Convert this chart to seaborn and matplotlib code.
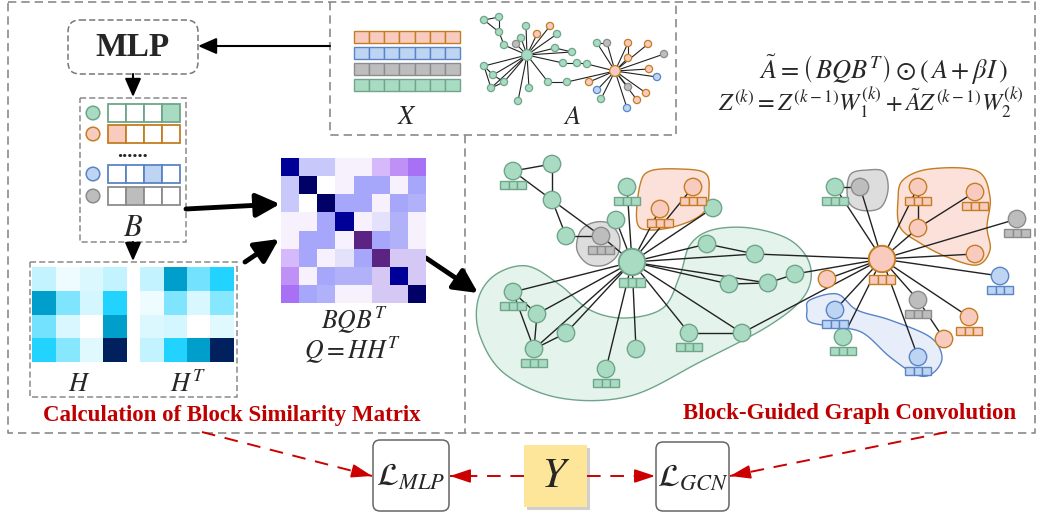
import numpy as np
import matplotlib
matplotlib.use('Agg')
import matplotlib.pyplot as plt
from matplotlib.colors import LinearSegmentedColormap, ListedColormap
from matplotlib.patches import Circle, Rectangle, FancyBboxPatch, Polygon
import seaborn as sns

sns.set_theme(style='white')
plt.rcParams['font.family'] = ['Liberation Serif', 'DejaVu Serif']
plt.rcParams['mathtext.fontset'] = 'stix'

# ---------------- data ----------------
# node groups: g = green, o = orange, b = blue, k = gray
fill_col = {'g': '#a9dbc3', 'o': '#f9cbbf', 'b': '#bdd4f3', 'k': '#bdbdbd'}
edge_col = {'g': '#6fa58a', 'o': '#c47d22', 'b': '#5a84c6', 'k': '#8c8c8c'}
blob_fill = {'g': '#e4f3eb', 'o': '#fbe1da', 'b': '#e7eefa', 'k': '#dddddd'}

# block membership matrix B (which cell is active per row)
b_groups = ['g', 'o', 'b', 'k']
b_active = [3, 0, 2, 1]

# feature matrix X rows
x_groups = ['o', 'b', 'k', 'g']
x_cols = 7

# H (4x4) and BQB^T (8x8, colour codes)
H_vals = np.array([[0.15, 0.04, 0.09, 0.15],
                   [0.75, 0.32, 0.11, 0.55],
                   [0.35, 0.10, 0.00, 0.75],
                   [0.55, 0.30, 0.08, 1.00]])
bqb_colors = ['#ffffff', '#f6f1fc', '#e4e1fa', '#d5c8f5', '#c8c8fa', '#b1b1fa',
              '#a6a6fa', '#d5b9fa', '#bf90f5', '#a870f5', '#5c2482', '#000099', '#000066']
bqb_codes = np.array([[11, 4, 4, 1, 1, 7, 8, 9],
                      [4, 12, 0, 1, 6, 6, 1, 6],
                      [4, 0, 12, 6, 6, 1, 6, 5],
                      [1, 1, 6, 11, 1, 2, 5, 1],
                      [1, 6, 6, 1, 10, 6, 5, 1],
                      [7, 6, 1, 2, 6, 10, 3, 3],
                      [8, 1, 6, 5, 5, 3, 11, 3],
                      [9, 6, 5, 1, 1, 3, 3, 12]])

# small graph A
a_x = [527, 615, 484, 499, 499, 504, 516, 526, 521, 537, 550, 557, 555, 572, 563, 577,
       587, 484, 493, 504, 491, 529, 518, 548, 567, 589, 597, 607, 628, 648, 628, 664,
       649, 657, 597, 601, 628, 646, 637, 627]
a_y = [55, 71, 20, 17, 32, 45, 44, 26, 38, 34, 26, 34, 48, 52, 63, 63,
       64, 66, 75, 82, 88, 88, 101, 82, 82, 82, 43, 43, 43, 44, 58, 54,
       69, 77, 90, 99, 87, 93, 100, 108]
a_grp = ['g', 'o', 'g', 'g', 'g', 'g', 'k', 'g', 'g', 'o', 'o', 'g', 'g', 'g', 'g', 'g',
         'g', 'g', 'g', 'g', 'g', 'g', 'g', 'g', 'g', 'o', 'g', 'k', 'o', 'o', 'o', 'k',
         'o', 'b', 'b', 'g', 'k', 'o', 'o', 'b']
a_edges = [(2, 3), (2, 4), (3, 4), (4, 5), (5, 0), (6, 0), (7, 0), (8, 0), (9, 0), (10, 0),
           (11, 0), (12, 0), (12, 13), (13, 0), (0, 14), (14, 15), (15, 16), (16, 1),
           (0, 17), (17, 18), (18, 19), (19, 20), (17, 20), (0, 18), (0, 19), (0, 20),
           (0, 21), (0, 22), (0, 23), (23, 24), (24, 1), (25, 1), (26, 27), (26, 1),
           (27, 1), (28, 1), (29, 1), (30, 1), (28, 30), (31, 1), (32, 1), (33, 1),
           (34, 1), (35, 1), (36, 1), (37, 1), (38, 1), (39, 1)]

# big graph
g_x = [632, 513, 552, 552, 566, 601, 616, 627, 660, 693, 713, 707, 755, 729, 768, 795,
       513, 537, 566, 534, 636, 606, 689, 742, 882, 835, 860, 918, 975, 918, 975, 1017,
       1000, 827, 918, 969, 944, 835, 843, 918]
g_y = [262, 171, 164, 200, 236, 236, 220, 187, 209, 187, 208, 244, 254, 284, 283, 274,
       292, 314, 333, 349, 349, 369, 333, 333, 259, 187, 187, 187, 192, 228, 254, 219,
       276, 279, 300, 317, 339, 310, 337, 357]
g_grp = ['g', 'g', 'g', 'g', 'g', 'k', 'g', 'g', 'o', 'o', 'g', 'g', 'g', 'g', 'g', 'g',
         'g', 'g', 'g', 'g', 'g', 'g', 'g', 'g', 'o', 'g', 'k', 'o', 'o', 'o', 'o', 'k',
         'b', 'o', 'k', 'o', 'o', 'b', 'g', 'b']
g_box = [1, 1, 0, 0, 0, 1, 0, 1, 1, 1, 0, 0, 0, 0, 0, 0,
         1, 0, 0, 1, 0, 1, 1, 0, 1, 1, 0, 1, 1, 0, 0, 1,
         1, 0, 1, 1, 0, 1, 1, 1]
g_edges = [(1, 2), (1, 3), (2, 3), (3, 4), (3, 5), (4, 5), (5, 0), (6, 0), (7, 0), (8, 0),
           (9, 0), (10, 0), (11, 0), (11, 12), (0, 12), (12, 24), (0, 13), (0, 14),
           (13, 14), (14, 15), (15, 24), (0, 16), (0, 17), (0, 18), (0, 19), (0, 20),
           (0, 21), (0, 22), (0, 23), (22, 23), (23, 24), (16, 17), (16, 19), (17, 19),
           (18, 19), (24, 25), (25, 26), (24, 26), (24, 27), (27, 29), (28, 29), (24, 29),
           (24, 30), (24, 31), (24, 32), (24, 33), (24, 34), (34, 36), (24, 35), (24, 37),
           (24, 38), (24, 39)]

blobs = {
    'g': [(478, 300), (495, 275), (527, 266), (560, 285), (590, 310), (625, 318),
          (663, 308), (680, 275), (690, 245), (712, 230), (750, 228), (790, 240),
          (810, 265), (805, 295), (770, 325), (700, 362), (630, 396), (560, 398),
          (505, 374), (480, 336)],
    'o1': [(640, 185), (650, 171), (680, 169), (705, 173), (709, 190), (704, 212),
           (680, 225), (650, 230), (637, 222)],
    'o2': [(903, 180), (930, 169), (977, 171), (990, 197), (987, 227), (990, 250),
           (977, 265), (947, 257), (920, 243), (900, 227), (898, 200)],
    'b': [(810, 300), (837, 294), (857, 310), (890, 320), (930, 337), (942, 357),
          (933, 373), (917, 375), (890, 357), (863, 333), (837, 327), (810, 322), (807, 310)],
    'k1': [(580, 232), (592, 223), (608, 223), (619, 236), (618, 254), (605, 265),
           (588, 264), (577, 250)],
    'k2': [(850, 175), (868, 170), (884, 172), (888, 190), (880, 208), (860, 210), (848, 200)],
}


def smooth_closed(pts, n=24):
    P = np.array(pts, float)
    m = len(P)
    out = []
    t = np.linspace(0, 1, n, endpoint=False)[:, None]
    for i in range(m):
        p0, p1, p2, p3 = P[i - 1], P[i], P[(i + 1) % m], P[(i + 2) % m]
        out.append(0.5 * (2 * p1 + (-p0 + p2) * t + (2 * p0 - 5 * p1 + 4 * p2 - p3) * t ** 2
                          + (-p0 + 3 * p1 - 3 * p2 + p3) * t ** 3))
    return np.vstack(out)


fig = plt.figure(figsize=(10.4, 5.14), dpi=100)
ax = fig.add_axes([0, 0, 1, 1])
ax.set_xlim(0, 1040)
ax.set_ylim(514, 0)
ax.axis('off')


def px_axes(x0, y0, x1, y1):
    return fig.add_axes([x0 / 1040, 1 - y1 / 514, (x1 - x0) / 1040, (y1 - y0) / 514])


# dashed frames
dash = dict(color='#8a8a8a', lw=1.2, ls=(0, (5, 3)))
ax.plot([8, 1035, 1035, 8, 8], [2, 2, 433, 433, 2], **dash)
ax.plot([330, 330, 676, 676], [2, 135, 135, 2], **dash)
ax.plot([465, 465], [135, 433], **dash)

# MLP box
ax.add_patch(FancyBboxPatch((68, 20), 130, 54, boxstyle='round,pad=0,rounding_size=12',
                            fc='white', ec='#777777', lw=1.1, ls=(0, (4, 2))))
ax.text(133, 47, 'MLP', ha='center', va='center', fontsize=24, fontweight='bold')
thin = dict(arrowstyle='-|>,head_width=0.35,head_length=0.8', lw=1.5,
            color='black', shrinkA=0, shrinkB=0, mutation_scale=14)
ax.annotate('', xy=(198, 46), xytext=(330, 46), arrowprops=thin)
ax.annotate('', xy=(133, 97), xytext=(133, 74), arrowprops=thin)
ax.annotate('', xy=(133, 261), xytext=(133, 242), arrowprops=thin)

# B matrix
ax.add_patch(Rectangle((80, 98), 106, 144, fc='none', ec='#8a8a8a', lw=1.1, ls=(0, (4, 2))))
row_y = [104, 125, 165, 187]
for gi, (grp, act) in enumerate(zip(b_groups, b_active)):
    y0 = row_y[gi]
    ax.add_patch(Circle((93, y0 + 9), 6.8, fc=fill_col[grp], ec=edge_col[grp], lw=1.1))
    for c in range(4):
        ax.add_patch(Rectangle((108 + 18 * c, y0), 18, 18,
                               fc=fill_col[grp] if c == act else 'white',
                               ec=edge_col[grp], lw=1.3))
ax.text(133, 157, '......', ha='center', va='baseline', fontsize=15, fontweight='bold')
ax.text(133, 229, r'$B$', ha='center', va='center', fontsize=22)

# X matrix
cw = (460 - 354) / x_cols
for ri, grp in enumerate(x_groups):
    y0 = 31 + 16 * ri
    for c in range(x_cols):
        ax.add_patch(Rectangle((354 + cw * c, y0), cw, 12, fc=fill_col[grp],
                               ec=edge_col[grp], lw=1.0))
ax.text(407, 118, r'$X$', ha='center', va='center', fontsize=19)
ax.text(572, 118, r'$A$', ha='center', va='center', fontsize=19)

# small graph A
for i, j in a_edges:
    ax.plot([a_x[i], a_x[j]], [a_y[i], a_y[j]], color='#222222', lw=0.8, zorder=2)
for k, (x, y, grp) in enumerate(zip(a_x, a_y, a_grp)):
    r = 5.4 if k < 2 else 3.6
    ax.add_patch(Circle((x, y), r, fc=fill_col[grp], ec=edge_col[grp], lw=0.9, zorder=3))

# formulas
ax.text(883, 70, r'$\tilde{A}=\left(\,BQB^{T}\right)\odot\left(\,A+\beta I\,\right)$',
        ha='center', va='center', fontsize=19)
ax.text(871, 103, r'$Z^{(k)}=Z^{(k-1)}W_1^{(k)}+\tilde{A}Z^{(k-1)}W_2^{(k)}$',
        ha='center', va='center', fontsize=17.5)

# H box
ax.add_patch(Rectangle((30, 262), 207, 135, fc='none', ec='#8a8a8a', lw=1.1, ls=(0, (4, 2))))
h_cmap = LinearSegmentedColormap.from_list(
    'hc', [(0, '#ffffff'), (0.55, '#22d2ff'), (0.75, '#009fcc'), (1.0, '#00205e')])
axH = px_axes(32, 267, 127, 362)
sns.heatmap(H_vals, ax=axH, cmap=h_cmap, vmin=0, vmax=1, cbar=False,
            xticklabels=False, yticklabels=False)
axHT = px_axes(140, 267, 234, 362)
sns.heatmap(H_vals.T, ax=axHT, cmap=h_cmap, vmin=0, vmax=1, cbar=False,
            xticklabels=False, yticklabels=False)
ax.text(79, 385, r'$H$', ha='center', va='center', fontsize=19)
ax.text(188, 384, r'$H^{T}$', ha='center', va='center', fontsize=19)

# BQB^T
axQ = px_axes(281, 158, 426, 303)
sns.heatmap(bqb_codes, ax=axQ, cmap=ListedColormap(bqb_colors), vmin=-0.5,
            vmax=len(bqb_colors) - 0.5, cbar=False, xticklabels=False, yticklabels=False)
ax.text(354, 320, r'$BQB^{T}$', ha='center', va='center', fontsize=18.5)
ax.text(353, 350, r'$Q=HH^{T}$', ha='center', va='center', fontsize=18.5)

# thick arrows
thick = dict(arrowstyle='-|>,head_width=0.4,head_length=0.8', lw=3.5, color='black',
             shrinkA=0, shrinkB=0, mutation_scale=18)
ax.annotate('', xy=(280, 204), xytext=(186, 209), arrowprops=thick)
ax.annotate('', xy=(279, 239), xytext=(245, 262), arrowprops=thick)
ax.annotate('', xy=(478, 293), xytext=(426, 258), arrowprops=thick)

# blobs
for name, pts in blobs.items():
    grp = name[0]
    poly = smooth_closed(pts)
    ax.add_patch(Polygon(poly, closed=True, fc=blob_fill[grp], ec=edge_col[grp],
                         lw=1.0, zorder=1))

# big graph
for i, j in g_edges:
    ax.plot([g_x[i], g_x[j]], [g_y[i], g_y[j]], color='#222222', lw=1.0, zorder=2)
for k, (x, y, grp, bx) in enumerate(zip(g_x, g_y, g_grp, g_box)):
    hub = k in (0, 24)
    r = 13.2 if hub else 8.7
    ax.add_patch(Circle((x, y), r, fc=fill_col[grp], ec=edge_col[grp],
                        lw=1.4 if hub else 1.0, zorder=3))
    if bx:
        top = y + r + (3 if hub else 1)
        for c in range(3):
            ax.add_patch(Rectangle((x - 13 + 8.7 * c, top), 8.7, 8.5, fc=fill_col[grp],
                                   ec=edge_col[grp], lw=1.0, zorder=4))

# titles
ax.text(232, 416, 'Calculation of Block Similarity Matrix', ha='center', va='center',
        fontsize=16.5, fontweight='bold', color='#c00000')
ax.text(850, 414, 'Block-Guided Graph Convolution', ha='center', va='center',
        fontsize=16.5, fontweight='bold', color='#c00000')

# losses
ax.add_patch(FancyBboxPatch((373, 440), 76, 71, boxstyle='round,pad=0,rounding_size=7',
                            fc='white', ec='#666666', lw=1.1))
ax.add_patch(FancyBboxPatch((656, 442), 73, 69, boxstyle='round,pad=0,rounding_size=7',
                            fc='white', ec='#666666', lw=1.1))
ax.add_patch(Rectangle((527, 448), 63, 62, fc='#cfcfcf', ec='none'))
ax.add_patch(Rectangle((524, 445), 63, 62, fc='#fde69a', ec='none'))
ax.text(411, 478, r'$\mathcal{L}_{MLP}$', ha='center', va='center', fontsize=23)
ax.text(693, 478, r'$\mathcal{L}_{GCN}$', ha='center', va='center', fontsize=23)
ax.text(556, 477, r'$Y$', ha='center', va='center', fontsize=31)

red = '#cc0000'
red_lines = [((202, 432), (372, 476)), ((947, 432), (730, 476)),
             ((524, 476), (450, 476)), ((587, 476), (655, 476))]
for (x0, y0), (x1, y1) in red_lines:
    ax.plot([x0, x1], [y0, y1], color=red, lw=1.4, ls=(0, (7, 5)))
    d = np.array([x1 - x0, y1 - y0], float)
    d /= np.hypot(*d)
    ax.annotate('', xy=(x1, y1), xytext=(x1 - 12 * d[0], y1 - 12 * d[1]),
                arrowprops=dict(arrowstyle='-|>,head_width=0.3,head_length=0.9', lw=1.2,
                                color=red, shrinkA=0, shrinkB=0, mutation_scale=14))

fig.savefig('out.png', dpi=100)
